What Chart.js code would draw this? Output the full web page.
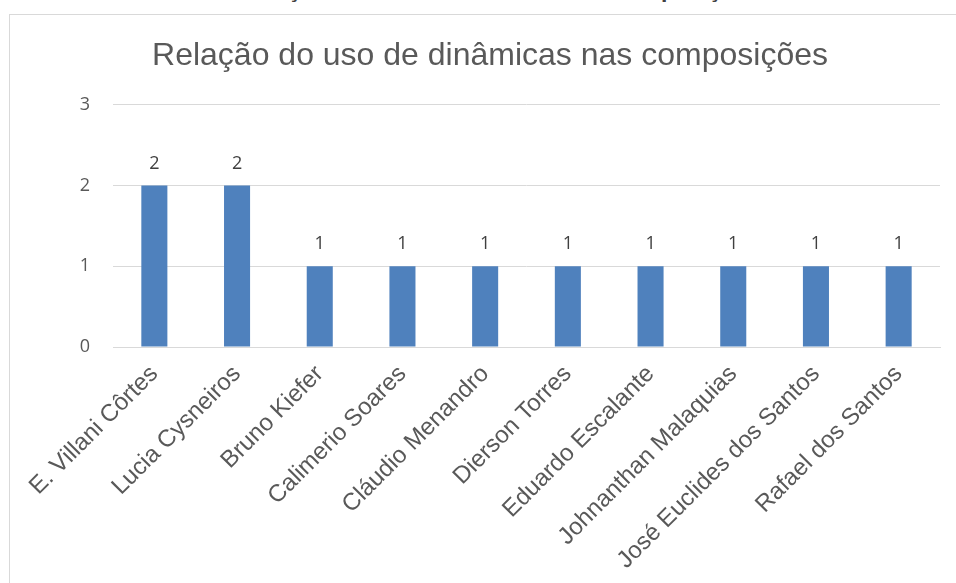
<!DOCTYPE html>
<html lang="pt">

<head>
    <meta charset="UTF-8">
    <title>Relação do uso de dinâmicas nas composições</title>
    <script src="https://cdn.jsdelivr.net/npm/chart.js"></script>
    <style>
        html, body {
            margin: 0;
            padding: 0;
            width: 956px;
            height: 583px;
            overflow: hidden;
            background: #fff;
        }
        .cut-title {
            position: absolute;
            left: 0;
            width: 1000px;
            top: -24px;
            text-align: center;
            font: bold 23px "Liberation Sans", Arial, sans-serif;
            color: #404040;
            line-height: 27px;
            white-space: nowrap;
        }
        .frame {
            position: absolute;
            left: 9px;
            top: 14px;
            width: 1000px;
            height: 700px;
            border-left: 1px solid #d9d9d9;
            border-top: 1px solid #d9d9d9;
        }
        #chartBox {
            position: absolute;
            left: 10px;
            top: 15px;
            width: 946px;
            height: 572px;
        }
    </style>
</head>

<body>
    <div class="cut-title">Relação do uso de dinâmicas nas composições</div>
    <div class="frame"></div>
    <div id="chartBox">
        <canvas id="myChart"></canvas>
    </div>
</body>
<script>
    const chartTitle = 'Relação do uso de dinâmicas nas composições';
    const composers = [
        'E. Villani Côrtes',
        'Lucia Cysneiros',
        'Bruno Kiefer',
        'Calimerio Soares',
        'Cláudio Menandro',
        'Dierson Torres',
        'Eduardo Escalante',
        'Johnanthan Malaquias',
        'José Euclides dos Santos',
        'Rafael dos Santos'
    ];
    const usage = [2, 2, 1, 1, 1, 1, 1, 1, 1, 1];
    const yTicks = [0, 1, 2, 3];

    // values above each bar
    const barLabels = {
        id: 'barLabels',
        afterDatasetsDraw(chart) {
            const ctx = chart.ctx;
            const meta = chart.getDatasetMeta(0);
            ctx.save();
            ctx.font = '18px "Open Sans", "Liberation Sans", sans-serif';
            ctx.fillStyle = '#404040';
            ctx.textAlign = 'center';
            ctx.textBaseline = 'alphabetic';
            meta.data.forEach((bar, i) => {
                ctx.fillText(chart.data.datasets[0].data[i], bar.x, bar.y - 17);
            });
            ctx.restore();
        }
    };

    const ctx = document.getElementById('myChart').getContext('2d');
    new Chart(ctx, {
        type: 'bar',
        data: {
            labels: composers,
            datasets: [{
                label: 'Uso de dinâmicas',
                data: usage,
                backgroundColor: '#4f81bd',
                barPercentage: 0.315,
                categoryPercentage: 1
            }]
        },
        options: {
            responsive: true,
            maintainAspectRatio: false,
            animation: false,
            layout: {
                padding: { left: 30, right: 16, top: 8, bottom: 0 }
            },
            scales: {
                x: {
                    grid: { display: false },
                    border: { color: '#d9d9d9', width: 1 },
                    ticks: {
                        minRotation: 45,
                        maxRotation: 45,
                        autoSkip: false,
                        padding: 5,
                        color: '#595959',
                        font: { family: '"Liberation Sans", Arial, sans-serif', size: 24 }
                    },
                    afterFit: scale => { scale.height = 240; }
                },
                y: {
                    min: 0,
                    max: 3,
                    afterBuildTicks: scale => {
                        scale.ticks = yTicks.map(v => ({ value: v }));
                    },
                    grid: { color: '#d9d9d9', drawTicks: false },
                    border: { display: false },
                    ticks: {
                        padding: 23,
                        color: '#595959',
                        font: { family: '"Open Sans", "Liberation Sans", sans-serif', size: 18 }
                    },
                    afterFit: scale => { scale.width = 73; }
                }
            },
            plugins: {
                legend: { display: false },
                tooltip: { enabled: false },
                title: {
                    display: true,
                    text: chartTitle,
                    color: '#595959',
                    font: { family: '"Liberation Sans", Arial, sans-serif', size: 32, weight: 'normal' },
                    padding: { top: 14, bottom: 29.4 }
                }
            }
        },
        plugins: [barLabels]
    });
</script>

</html>
